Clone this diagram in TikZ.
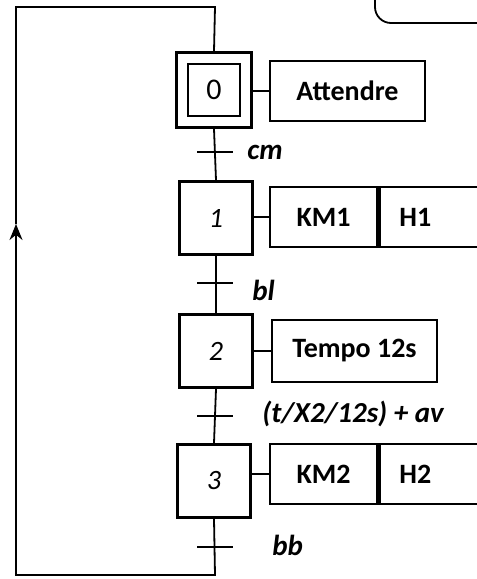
\documentclass[tikz,border=0pt]{standalone}
\usepackage{fontspec}
\setmainfont{Carlito}
\usetikzlibrary{positioning, arrows.meta}
\begin{document}
\begin{tikzpicture}[x=0.5pt, y=-0.5pt, >={Stealth[length=8pt, width=6.5pt]}, node distance=0pt,
  etape/.style={draw, line width=1.4pt, minimum size=36.5pt, inner sep=0pt, font=\fontsize{14}{16}\selectfont},
  action/.style={draw, line width=1.2pt, minimum height=30pt, inner sep=0pt, font=\bfseries\fontsize{14}{16}\selectfont},
  recept/.style={font=\bfseries\itshape\fontsize{14.5}{17}\selectfont, anchor=west, inner sep=0pt},
  lien/.style={line width=0.9pt}]
\clip (0,0) rectangle (477,579);
\draw[lien, rounded corners=8pt] (375,-20) rectangle (520,23);

% etapes
\node[etape, minimum size=26pt, font=\fontsize{15}{17}\selectfont] (e0) at (214,90) {0};
\node[draw, line width=1.4pt, minimum size=37.5pt] (e0b) at (214,90) {};
\node[etape] (e1) at (216,218) {\itshape 1};
\node[etape] (e2) at (216,351) {\itshape 2};
\node[etape] (e3) at (214,481) {\itshape 3};

% actions
\node[action, minimum width=77.5pt] (a0) at (347.5,91) {Attendre};
\node[action, minimum width=53.5pt] (a1) at (323.5,217) {KM1};
\node[action, text width=50pt, align=left, inner xsep=10pt, right=of a1] (a1b) {H1};
\node[action, minimum width=82.5pt, minimum height=31pt] (a2) at (354.5,351) {Tempo 12s};
\node[action, minimum width=53.5pt] (a3) at (323.5,474) {KM2};
\node[action, text width=50pt, align=left, inner xsep=10pt, right=of a3] (a3b) {H2};

\draw[lien] (e0b.east |- a0) -- (a0.west);
\draw[lien] (e1.east |- a1) -- (a1.west);
\draw[lien] (e2.east |- a2) -- (a2.west);
\draw[lien] (e3.east |- a3) -- (a3.west);

% transitions
\coordinate (t0) at (215,152);
\coordinate (t1) at (215,283);
\coordinate (t2) at (215,416);
\coordinate (t3) at (215,547);
\foreach \t in {t0,t1,t2,t3}
  \draw[line width=1.4pt] ([xshift=-9pt]\t) -- ([xshift=9pt]\t);
\node[recept] (r0) at (247,152) {cm};
\node[recept] (r1) at (252,290) {bl};
\node[recept] (r2) at (262,414) {(t/X2/12s) + av};
\node[recept] (r3) at (272,545) {bb};

\draw[lien] (e0b.south) -- (e1.north);
\draw[lien] (e1.south) -- (e2.north);
\draw[lien] (e2.south) -- (e3.north);

% retour
\coordinate (b0) at (215,575);
\coordinate (b1) at (16,575);
\coordinate (m) at (16,224);
\coordinate (h1) at (16,7);
\coordinate (h0) at (215,7);
\draw[lien, ->] (e3.south) -- (b0) -- (b1) -- (m);
\draw[lien] (m) -- (h1) -- (h0) -- (e0b.north);
\end{tikzpicture}
\end{document}
